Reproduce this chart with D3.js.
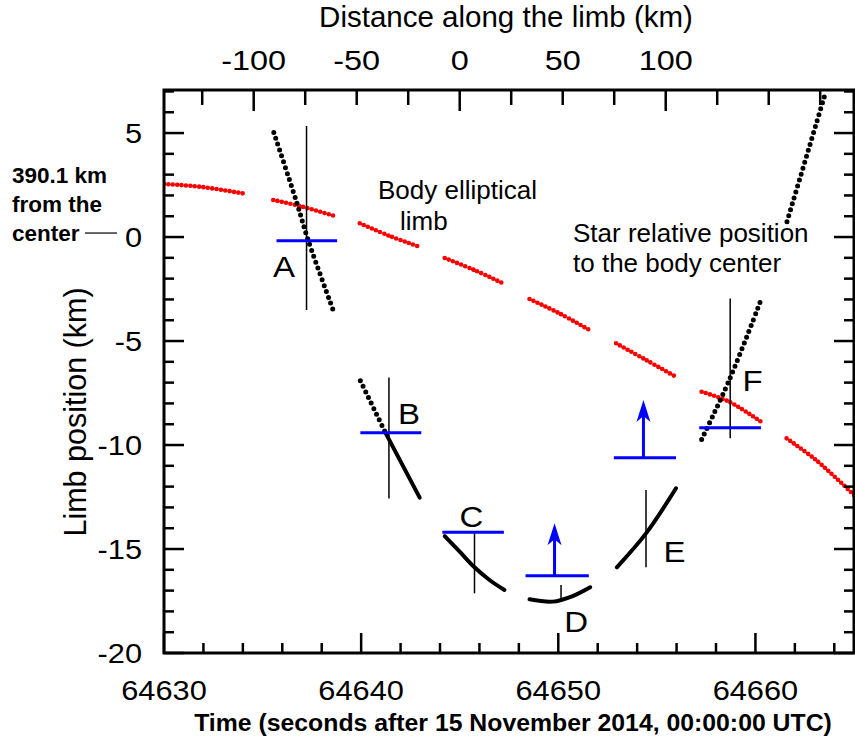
<!DOCTYPE html>
<html>
<head>
<meta charset="utf-8">
<script src="https://cdn.jsdelivr.net/npm/d3@7"></script>
<style>
  body { margin: 0; background: #fff; }
  text { font-family: "Liberation Sans", Arial, sans-serif; fill: #000; }
</style>
</head>
<body>
<div id="chart"></div>
<script>
// ---- data (time in s, limb position in km) ----
var limbSegments = [
  [[64630.00, 2.55], [64631.82, 2.42], [64633.99, 2.10]],
  [[64635.54, 1.78], [64636.89, 1.49], [64638.66, 1.01]],
  [[64639.93, 0.66], [64641.45, 0.05], [64642.97, -0.47]],
  [[64644.24, -1.01], [64645.75, -1.59], [64647.27, -2.26]],
  [[64648.54, -2.98], [64650.06, -3.67], [64651.58, -4.47]],
  [[64652.93, -5.11], [64654.45, -5.91], [64655.97, -6.72]],
  [[64657.27, -7.44], [64658.67, -7.92], [64660.28, -8.88]],
  [[64661.58, -9.68], [64663.07, -10.72], [64665.00, -12.40]]
];

// star relative position, dotted parts (sparse sampling)
var starDotted = [
  [[64635.57, 5.03], [64636.72, 1.70], [64637.31, -0.14], [64638.61, -3.59]],
  [[64639.96, -6.91], [64641.25, -9.44]],
  [[64657.27, -9.73], [64658.67, -6.88], [64660.28, -3.03]],
  [[64661.60, 0.74], [64663.57, 6.99]]
];
// star relative position, dense parts (drawn solid)
var starSolid = [
  [[64641.25, -9.44], [64642.97, -12.53]],
  [[64644.24, -14.38], [64645.00, -15.13], [64645.75, -15.88], [64646.51, -16.49], [64647.27, -16.97]],
  [[64648.54, -17.42], [64649.72, -17.53], [64650.73, -17.26], [64651.62, -16.84]],
  [[64652.97, -15.88], [64654.45, -14.25], [64655.97, -12.08]]
];

// chords: blue level line [t0, t1, y], vertical line [t, y0, y1]
var chordNames = ["A", "B", "C", "D", "E", "F"];
var blueLines = [
  [64635.71, 64638.78, -0.18],
  [64639.96, 64643.05, -9.41],
  [64644.12, 64647.24, -14.20],
  [64648.34, 64651.55, -16.28],
  [64652.82, 64655.97, -10.61],
  [64657.15, 64660.28, -9.17]
];
var vertLines = [
  [64637.23, 5.34, -3.51],
  [64641.41, -6.75, -12.57],
  [64645.75, -14.25, -17.13],
  [64650.14, -16.73, -17.37],
  [64654.45, -12.16, -15.88],
  [64658.72, -2.95, -9.68]
];
// upward arrows: [t, base y, tip y]
var arrows = [
  [64649.81, -16.28, -13.76],
  [64654.32, -10.61, -7.84]
];
// chord label anchor points [t, y]
var labelPos = [
  [64636.09, -1.43],
  [64642.43, -8.48],
  [64645.59, -13.45],
  [64650.91, -18.50],
  [64655.89, -15.13],
  [64659.86, -6.88]
];

var timeTicks = [64630, 64640, 64650, 64660];
var limbTicks = [5, 0, -5, -10, -15, -20];
var distTicks = [-100, -50, 0, 50, 100];
var distZeroTime = 64645.0, kmPerSec = 9.57;

// ---- layout ----
var W = 855, H = 743;
var margin = {top: 90, right: 1, bottom: 90, left: 164};

var svg = d3.select("#chart").append("svg")
  .attr("width", W).attr("height", H);

var x = d3.scaleLinear().domain([64630, 64665]).range([margin.left, W - margin.right]);
var y = d3.scaleLinear().domain([-20, 7.07]).range([H - margin.bottom, margin.top]);
var xTop = d3.scaleLinear()
  .domain(x.domain().map(function(t){ return (t - distZeroTime) * kmPerSec; }))
  .range(x.range());

svg.append("clipPath").attr("id", "clip")
  .append("rect")
  .attr("x", x.range()[0]).attr("y", y.range()[1])
  .attr("width", x.range()[1] - x.range()[0])
  .attr("height", y.range()[0] - y.range()[1]);

var plot = svg.append("g").attr("clip-path", "url(#clip)");

var line = d3.line()
  .x(function(d){ return x(d[0]); })
  .y(function(d){ return y(d[1]); })
  .curve(d3.curveCatmullRom);

// limb (red dots)
plot.selectAll(".limb").data(limbSegments).enter().append("path")
  .attr("class", "limb")
  .attr("d", line)
  .attr("fill", "none")
  .attr("stroke", "#ff0000")
  .attr("stroke-width", 4.6)
  .attr("stroke-linecap", "round")
  .attr("stroke-dasharray", "0 4.4");

// star path dotted
plot.selectAll(".stard").data(starDotted).enter().append("path")
  .attr("d", line)
  .attr("fill", "none")
  .attr("stroke", "#000")
  .attr("stroke-width", 5)
  .attr("stroke-linecap", "round")
  .attr("stroke-dasharray", "0 6.2");

plot.selectAll(".stars").data(starSolid).enter().append("path")
  .attr("d", line)
  .attr("fill", "none")
  .attr("stroke", "#000")
  .attr("stroke-width", 4)
  .attr("stroke-linecap", "round");

// vertical thin lines
plot.selectAll(".vl").data(vertLines).enter().append("line")
  .attr("x1", function(d){ return x(d[0]); })
  .attr("x2", function(d){ return x(d[0]); })
  .attr("y1", function(d){ return y(d[1]); })
  .attr("y2", function(d){ return y(d[2]); })
  .attr("stroke", "#000")
  .attr("stroke-width", 1.5);

// blue chord levels
plot.selectAll(".bl").data(blueLines).enter().append("line")
  .attr("x1", function(d){ return x(d[0]); })
  .attr("x2", function(d){ return x(d[1]); })
  .attr("y1", function(d){ return y(d[2]); })
  .attr("y2", function(d){ return y(d[2]); })
  .attr("stroke", "#0000ff")
  .attr("stroke-width", 3);

// arrows
var ag = plot.selectAll(".arr").data(arrows).enter().append("g");
ag.append("line")
  .attr("x1", function(d){ return x(d[0]); })
  .attr("x2", function(d){ return x(d[0]); })
  .attr("y1", function(d){ return y(d[1]); })
  .attr("y2", function(d){ return y(d[2]) + 12; })
  .attr("stroke", "#0000ff")
  .attr("stroke-width", 3);
ag.append("path")
  .attr("d", function(d){
    var cx = x(d[0]), ty = y(d[2]);
    return "M" + cx + "," + ty + "L" + (cx - 7) + "," + (ty + 22) +
      "L" + cx + "," + (ty + 16) + "L" + (cx + 7) + "," + (ty + 22) + "Z";
  })
  .attr("fill", "#0000ff");

// wide-ish text helper (reference glyphs are a bit stretched horizontally)
function stretched(sel, px, py, sx) {
  sel.attr("transform", "translate(" + px + "," + py + ") scale(" + sx + ",1)");
}

// chord letters
svg.selectAll(".lab").data(labelPos).enter().append("text")
  .each(function(d){ stretched(d3.select(this), x(d[0]), y(d[1]), 1.1); })
  .attr("text-anchor", "middle")
  .attr("dominant-baseline", "central")
  .style("font-size", "30px")
  .text(function(d, i){ return chordNames[i]; });

// ---- axes ----
function tickAxis(g, scale, vals, len, orient) {
  g.selectAll("line.t" + len).data(vals).enter().append("line")
    .attr("stroke", "#000").attr("stroke-width", 2.5)
    .each(function(v){
      var s = d3.select(this), p = scale(v);
      if (orient === "bottom") s.attr("x1", p).attr("x2", p).attr("y1", y.range()[0]).attr("y2", y.range()[0] - len);
      if (orient === "top") s.attr("x1", p).attr("x2", p).attr("y1", y.range()[1]).attr("y2", y.range()[1] + len);
      if (orient === "left") s.attr("y1", p).attr("y2", p).attr("x1", x.range()[0]).attr("x2", x.range()[0] + len);
      if (orient === "right") s.attr("y1", p).attr("y2", p).attr("x1", x.range()[1]).attr("x2", x.range()[1] - len);
    });
}
var axes = svg.append("g");
var tMinor = d3.range(64630, 64666, 2).filter(function(v){ return v % 10 !== 0; });
tickAxis(axes, x, tMinor, 10, "bottom");
tickAxis(axes, x, timeTicks, 20, "bottom");
var yMinor = d3.range(-19, 8, 1).filter(function(v){ return v % 5 !== 0; });
tickAxis(axes, y, yMinor, 10, "left");
tickAxis(axes, y, limbTicks, 20, "left");
tickAxis(axes, y, yMinor, 10, "right");
tickAxis(axes, y, limbTicks, 20, "right");
var dMinor = d3.range(-125, 200, 25).filter(function(v){ return v % 100 !== 0; });
tickAxis(axes, xTop, dMinor, 15, "top");
tickAxis(axes, xTop, [-100, 0, 100], 21, "top");

axes.append("rect")
  .attr("x", x.range()[0]).attr("y", y.range()[1])
  .attr("width", x.range()[1] - x.range()[0])
  .attr("height", y.range()[0] - y.range()[1])
  .attr("fill", "none").attr("stroke", "#000").attr("stroke-width", 3);

// tick labels
svg.selectAll(".xl").data(timeTicks).enter().append("text")
  .each(function(d){ stretched(d3.select(this), x(d), 700, 1.14); })
  .attr("text-anchor", "middle")
  .style("font-size", "27px")
  .text(function(d){ return d; });

svg.selectAll(".yl").data(limbTicks).enter().append("text")
  .each(function(d){ stretched(d3.select(this), 142, y(d), 1.14); })
  .attr("dy", "0.36em")
  .attr("text-anchor", "end")
  .style("font-size", "27px")
  .text(function(d){ return d; });

svg.selectAll(".dl").data(distTicks).enter().append("text")
  .each(function(d){ stretched(d3.select(this), xTop(d), 70, 1.2); })
  .attr("text-anchor", "middle")
  .style("font-size", "27px")
  .text(function(d){ return d; });

// axis titles
svg.append("text")
  .attr("x", 506).attr("y", 27)
  .attr("text-anchor", "middle")
  .style("font-size", "29.5px")
  .text("Distance along the limb (km)");

svg.append("text")
  .attr("transform", "translate(86,412) rotate(-90)")
  .attr("text-anchor", "middle")
  .style("font-size", "30.5px")
  .text("Limb position (km)");

svg.append("text")
  .attr("x", 513).attr("y", 731)
  .attr("text-anchor", "middle")
  .style("font-size", "24.8px")
  .style("font-weight", "bold")
  .text("Time (seconds after 15 November 2014, 00:00:00 UTC)");

// annotations
var note = svg.append("g");
[["Body elliptical", 378, 190], ["limb", 400, 221],
 ["Star relative position", 573, 233], ["to the body center", 573, 263]].forEach(function(a){
  note.append("text").attr("x", a[1]).attr("y", a[2])
    .attr("dominant-baseline", "central")
    .style("font-size", "26px")
    .text(a[0]);
});

var side = ["390.1 km", "from the", "center"];
svg.selectAll(".side").data(side).enter().append("text")
  .attr("x", 12)
  .attr("y", function(d, i){ return 175 + i * 29; })
  .attr("dominant-baseline", "central")
  .style("font-size", "22.5px")
  .style("font-weight", "bold")
  .text(function(d){ return d; });

svg.append("line")
  .attr("x1", 85).attr("x2", 117)
  .attr("y1", y(0) - 4).attr("y2", y(0) - 4)
  .attr("stroke", "#000").attr("stroke-width", 1.2);
</script>
</body>
</html>
